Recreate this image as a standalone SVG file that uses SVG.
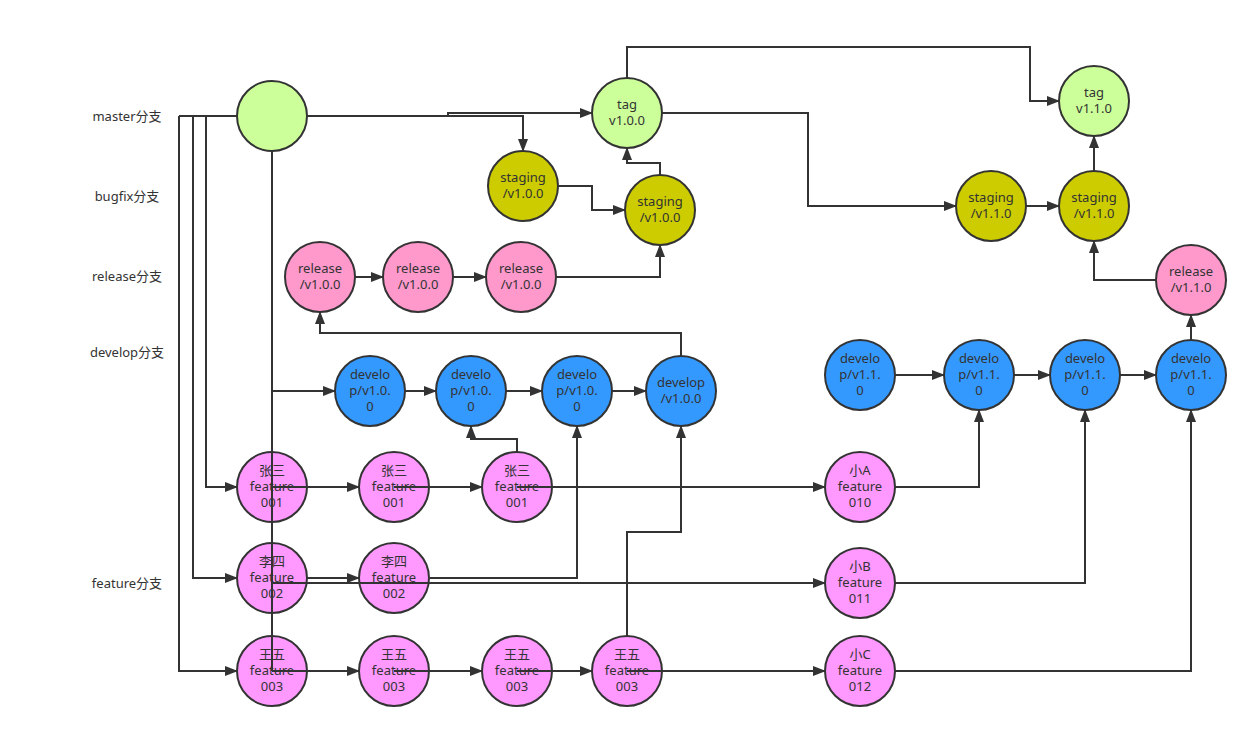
<svg xmlns="http://www.w3.org/2000/svg" width="1257" height="738" viewBox="0 0 1257 738">
<style>
text{font-family:"Noto Sans","Noto Sans CJK SC",sans-serif;font-size:13px;fill:#333;text-anchor:middle}
circle{stroke:#333;stroke-width:2}
.g{fill:#CCFF99}.y{fill:#CCCC00}.r{fill:#FF99CC}.b{fill:#3399FF}.p{fill:#FF99FF}
#connectors path{fill:none;stroke:#333;stroke-width:2}
#connectors path.a{marker-end:url(#arr)}
</style>
<defs>
<marker id="arr" markerUnits="userSpaceOnUse" markerWidth="14" markerHeight="12" refX="12" refY="5" orient="auto">
<path d="M0,0 L13,5 L0,10 z" fill="#333"/>
</marker>
</defs>
<rect width="1257" height="738" fill="#fff"/>
<g id="labels">
<text x="127" y="121">master分支</text>
<text x="127" y="201">bugfix分支</text>
<text x="127" y="281">release分支</text>
<text x="127" y="357">develop分支</text>
<text x="127" y="588">feature分支</text>
</g>
<g id="master"><circle class="g" cx="272" cy="116" r="35"/></g>
<g id="tag100"><circle class="g" cx="627" cy="113" r="35"/><text x="627" y="109">tag</text><text x="627" y="125">v1.0.0</text></g>
<g id="tag110"><circle class="g" cx="1094" cy="101" r="35"/><text x="1094" y="97">tag</text><text x="1094" y="113">v1.1.0</text></g>
<g id="staging1"><circle class="y" cx="523" cy="186" r="35"/><text x="523" y="182">staging</text><text x="523" y="198">/v1.0.0</text></g>
<g id="staging2"><circle class="y" cx="660" cy="210" r="35"/><text x="660" y="206">staging</text><text x="660" y="222">/v1.0.0</text></g>
<g id="staging3"><circle class="y" cx="991" cy="206" r="35"/><text x="991" y="202">staging</text><text x="991" y="218">/v1.1.0</text></g>
<g id="staging4"><circle class="y" cx="1094" cy="206" r="35"/><text x="1094" y="202">staging</text><text x="1094" y="218">/v1.1.0</text></g>
<g id="release1"><circle class="r" cx="320" cy="277" r="35"/><text x="320" y="273">release</text><text x="320" y="289">/v1.0.0</text></g>
<g id="release2"><circle class="r" cx="418" cy="277" r="35"/><text x="418" y="273">release</text><text x="418" y="289">/v1.0.0</text></g>
<g id="release3"><circle class="r" cx="521" cy="277" r="35"/><text x="521" y="273">release</text><text x="521" y="289">/v1.0.0</text></g>
<g id="release4"><circle class="r" cx="1191" cy="280" r="35"/><text x="1191" y="276">release</text><text x="1191" y="292">/v1.1.0</text></g>
<g id="dev1"><circle class="b" cx="370" cy="391" r="35"/><text x="370" y="379">develo</text><text x="370" y="395">p/v1.0.</text><text x="370" y="411">0</text></g>
<g id="dev2"><circle class="b" cx="471" cy="391" r="35"/><text x="471" y="379">develo</text><text x="471" y="395">p/v1.0.</text><text x="471" y="411">0</text></g>
<g id="dev3"><circle class="b" cx="577" cy="391" r="35"/><text x="577" y="379">develo</text><text x="577" y="395">p/v1.0.</text><text x="577" y="411">0</text></g>
<g id="dev4"><circle class="b" cx="681" cy="391" r="35"/><text x="681" y="387">develop</text><text x="681" y="403">/v1.0.0</text></g>
<g id="dev5"><circle class="b" cx="860" cy="375" r="35"/><text x="860" y="363">develo</text><text x="860" y="379">p/v1.1.</text><text x="860" y="395">0</text></g>
<g id="dev6"><circle class="b" cx="979" cy="375" r="35"/><text x="979" y="363">develo</text><text x="979" y="379">p/v1.1.</text><text x="979" y="395">0</text></g>
<g id="dev7"><circle class="b" cx="1085" cy="375" r="35"/><text x="1085" y="363">develo</text><text x="1085" y="379">p/v1.1.</text><text x="1085" y="395">0</text></g>
<g id="dev8"><circle class="b" cx="1191" cy="375" r="35"/><text x="1191" y="363">develo</text><text x="1191" y="379">p/v1.1.</text><text x="1191" y="395">0</text></g>
<g id="zs1"><circle class="p" cx="272" cy="487" r="35"/><text x="272" y="475">张三</text><text x="272" y="491">feature</text><text x="272" y="507">001</text></g>
<g id="zs2"><circle class="p" cx="394" cy="487" r="35"/><text x="394" y="475">张三</text><text x="394" y="491">feature</text><text x="394" y="507">001</text></g>
<g id="zs3"><circle class="p" cx="517" cy="487" r="35"/><text x="517" y="475">张三</text><text x="517" y="491">feature</text><text x="517" y="507">001</text></g>
<g id="ls1"><circle class="p" cx="272" cy="578" r="35"/><text x="272" y="566">李四</text><text x="272" y="582">feature</text><text x="272" y="598">002</text></g>
<g id="ls2"><circle class="p" cx="394" cy="578" r="35"/><text x="394" y="566">李四</text><text x="394" y="582">feature</text><text x="394" y="598">002</text></g>
<g id="ww1"><circle class="p" cx="272" cy="671" r="35"/><text x="272" y="659">王五</text><text x="272" y="675">feature</text><text x="272" y="691">003</text></g>
<g id="ww2"><circle class="p" cx="394" cy="671" r="35"/><text x="394" y="659">王五</text><text x="394" y="675">feature</text><text x="394" y="691">003</text></g>
<g id="ww3"><circle class="p" cx="517" cy="671" r="35"/><text x="517" y="659">王五</text><text x="517" y="675">feature</text><text x="517" y="691">003</text></g>
<g id="ww4"><circle class="p" cx="627" cy="671" r="35"/><text x="627" y="659">王五</text><text x="627" y="675">feature</text><text x="627" y="691">003</text></g>
<g id="xa"><circle class="p" cx="860" cy="487" r="35"/><text x="860" y="475">小A</text><text x="860" y="491">feature</text><text x="860" y="507">010</text></g>
<g id="xb"><circle class="p" cx="860" cy="583" r="35"/><text x="860" y="571">小B</text><text x="860" y="587">feature</text><text x="860" y="603">011</text></g>
<g id="xc"><circle class="p" cx="860" cy="671" r="35"/><text x="860" y="659">小C</text><text x="860" y="675">feature</text><text x="860" y="691">012</text></g>
<g id="connectors">
<path d="M179,116 H237"/>
<path class="a" d="M179,116 V671 H237"/>
<path class="a" d="M193,116 V578 H237"/>
<path class="a" d="M206,116 V487 H237"/>
<path d="M272,151 V671"/>
<path class="a" d="M272,391 H335"/>
<path class="a" d="M307,116 H523 V151"/>
<path class="a" d="M448,116 V113 H592"/>
<path class="a" d="M558,186 H592 V210 H625"/>
<path class="a" d="M660,175 V163 H627 V148"/>
<path class="a" d="M627,78 V47 H1030 V101 H1059"/>
<path class="a" d="M662,113 H808 V206 H956"/>
<path class="a" d="M1026,206 H1059"/>
<path class="a" d="M1094,171 V136"/>
<path class="a" d="M1156,280 H1094 V241"/>
<path class="a" d="M1191,340 V315"/>
<path class="a" d="M895,375 H944"/>
<path class="a" d="M1014,375 H1050"/>
<path class="a" d="M1120,375 H1156"/>
<path class="a" d="M895,487 H979 V410"/>
<path class="a" d="M895,583 H1085 V410"/>
<path class="a" d="M895,671 H1191 V410"/>
<path class="a" d="M355,277 H383"/>
<path class="a" d="M453,277 H486"/>
<path class="a" d="M556,277 H660 V245"/>
<path class="a" d="M681,356 V333 H320 V312"/>
<path class="a" d="M405,391 H436"/>
<path class="a" d="M506,391 H542"/>
<path class="a" d="M612,391 H646"/>
<path class="a" d="M517,452 V439 H471 V426"/>
<path class="a" d="M430,578 H577 V426"/>
<path class="a" d="M627,636 V532 H681 V426"/>
<path class="a" d="M272,487 H359"/>
<path class="a" d="M394,487 H482"/>
<path class="a" d="M517,487 H825"/>
<path class="a" d="M307,578 H359"/>
<path class="a" d="M272,583 H825"/>
<path class="a" d="M272,671 H359"/>
<path class="a" d="M394,671 H482"/>
<path class="a" d="M517,671 H592"/>
<path class="a" d="M627,671 H825"/>
</g>
</svg>
